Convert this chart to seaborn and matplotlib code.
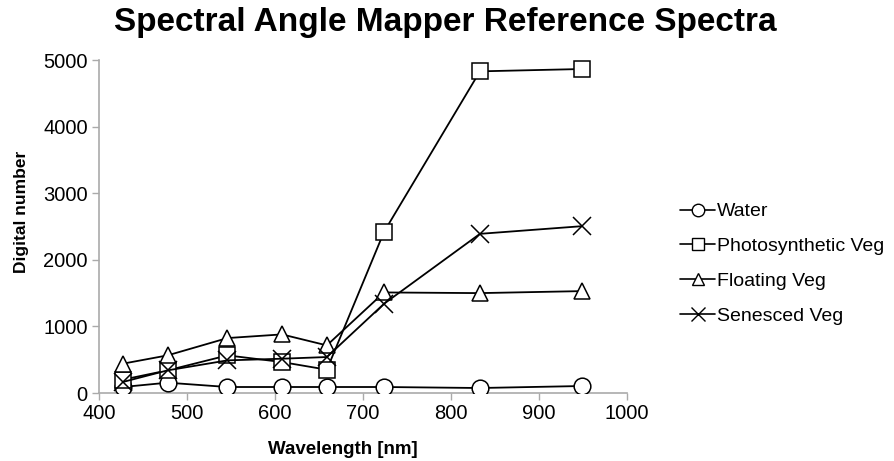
import matplotlib
matplotlib.use("Agg")
import matplotlib.pyplot as plt
from matplotlib.lines import Line2D
import pandas as pd
import seaborn as sns

wavelength = [427, 478, 546, 608, 659, 724, 833, 949]
water = [90, 155, 90, 90, 90, 90, 75, 105]
photosynthetic = [200, 340, 565, 465, 350, 2420, 4830, 4865]
floating = [440, 565, 825, 880, 715, 1510, 1500, 1530]
senesced = [165, 340, 490, 515, 540, 1340, 2390, 2505]

series_names = ["Water", "Photosynthetic Veg", "Floating Veg", "Senesced Veg"]
series_values = [water, photosynthetic, floating, senesced]
series_markers = ["o", "s", "^", "x"]

x_ticks = [400, 500, 600, 700, 800, 900, 1000]
y_ticks = [0, 1000, 2000, 3000, 4000, 5000]

rows = []
for name, vals in zip(series_names, series_values):
    for w, v in zip(wavelength, vals):
        rows.append({"Wavelength": w, "Digital number": v, "Spectrum": name})
df = pd.DataFrame(rows)

sns.set_theme(style="white")
plt.rcParams["font.family"] = ["Liberation Sans", "DejaVu Sans"]
plt.rcParams["text.color"] = "black"
plt.rcParams["axes.labelcolor"] = "black"

fig = plt.figure(figsize=(8.94, 4.61), dpi=100)
ax = fig.add_axes([0.1107, 0.1475, 0.5905, 0.7223])

for name, mk in zip(series_names, series_markers):
    sub = df[df["Spectrum"] == name]
    sns.lineplot(
        data=sub, x="Wavelength", y="Digital number", ax=ax,
        color="black", linewidth=1.3, marker=mk,
        markersize=12 if mk != "x" else 13,
        markerfacecolor="white", markeredgecolor="black",
        markeredgewidth=1.1, legend=False, zorder=3,
    )

ax.set_xlim(400, 1000)
ax.set_ylim(0, 5000)
ax.set_xticks(x_ticks)
ax.set_yticks(y_ticks)
ax.tick_params(axis="both", labelsize=14.5, labelcolor="black", length=5,
               width=1, direction="out", color="#aaaaaa", bottom=True, left=True,
               pad=3)
for s in ["top", "right"]:
    ax.spines[s].set_visible(False)
for s in ["left", "bottom"]:
    ax.spines[s].set_color("#aaaaaa")
    ax.spines[s].set_linewidth(1.2)

ax.set_xlabel("Wavelength [nm]", fontsize=13.5, fontweight="bold")
ax.set_ylabel("Digital number", fontsize=12.5, fontweight="bold")
ax.xaxis.set_label_coords(0.462, -0.145)
ax.yaxis.set_label_coords(-0.132, 0.543)
fig.suptitle("Spectral Angle Mapper Reference Spectra", fontsize=24,
             fontweight="bold", x=0.498, y=0.985)

handles = [
    Line2D([0], [0], color="black", linewidth=1.2, marker=mk,
           markersize=9 if mk != "x" else 10, markerfacecolor="white",
           markeredgecolor="black", markeredgewidth=1.0)
    for mk in series_markers
]
fig.legend(handles, series_names, loc="center left",
           bbox_to_anchor=(0.752, 0.428), frameon=False, fontsize=14,
           handlelength=1.8, handletextpad=0.08, labelspacing=0.88,
           borderaxespad=0)

fig.savefig("out.png", dpi=100, facecolor="white")
